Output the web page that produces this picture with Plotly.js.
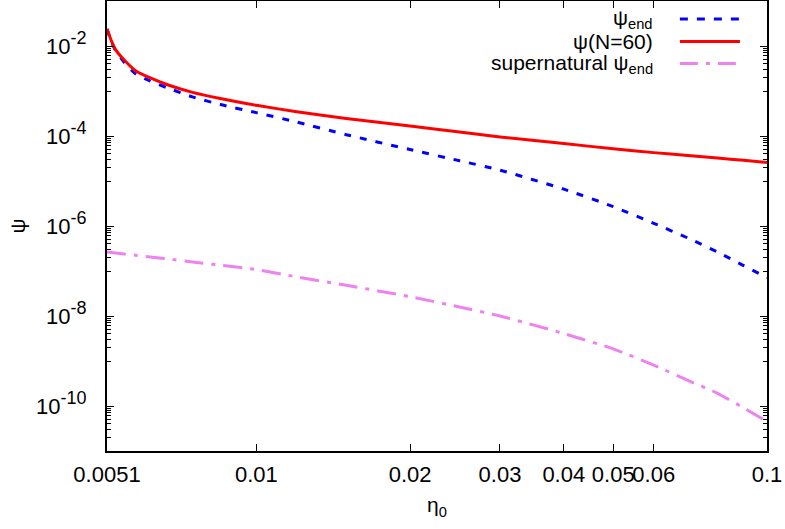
<!DOCTYPE html>
<html>
<head>
<meta charset="utf-8">
<script src="https://cdn.plot.ly/plotly-3.0.1.min.js"></script>
<style>html,body{margin:0;padding:0;background:#fff;}#plot{width:785px;height:529px;}</style>
</head>
<body>
<div id="plot"></div>
<script>
// eta_0 sample points
const eta0 = [0.0051, 0.0052, 0.0053, 0.0055, 0.0058, 0.0062, 0.0067, 0.0075, 0.0085, 0.01, 0.012, 0.015, 0.02, 0.025, 0.03, 0.04, 0.05, 0.06, 0.07, 0.08, 0.09, 0.1];
// psi_end (blue dashed)
const psiEnd = [2.40e-2, 1.26e-2, 7.9e-3, 4.47e-3, 2.40e-3, 1.66e-3, 1.17e-3, 7.4e-4, 5.0e-4, 3.31e-4, 2.04e-4, 1.07e-4, 5.0e-5, 2.82e-5, 1.74e-5, 6.6e-6, 2.69e-6, 1.15e-6, 5.4e-7, 2.63e-7, 1.32e-7, 7.1e-8];
// psi(N=60) (red solid)
const psiN60 = [2.40e-2, 1.32e-2, 8.3e-3, 5.0e-3, 2.82e-3, 1.95e-3, 1.38e-3, 9.3e-4, 6.8e-4, 4.8e-4, 3.47e-4, 2.45e-4, 1.66e-4, 1.23e-4, 9.5e-5, 6.8e-5, 5.2e-5, 4.27e-5, 3.7e-5, 3.24e-5, 2.88e-5, 2.57e-5];
// supernatural psi_end (violet dash-dot)
const psiSuper = [2.63e-7, 2.57e-7, 2.51e-7, 2.40e-7, 2.24e-7, 2.04e-7, 1.86e-7, 1.58e-7, 1.35e-7, 1.07e-7, 7.4e-8, 4.8e-8, 2.69e-8, 1.58e-8, 1.0e-8, 4.07e-9, 1.86e-9, 8.1e-10, 3.7e-10, 1.91e-10, 9.1e-11, 4.5e-11];

const seriesNames = ["ψ<sub>end</sub>", "ψ(N=60)", "supernatural ψ<sub>end</sub>"];
const xTickVals = [0.0051, 0.01, 0.02, 0.03, 0.04, 0.05, 0.06, 0.1];
const xTickText = ["0.0051", "0.01", "0.02", "0.03", "0.04", "0.05", "0.06", "0.1"];
const yTickVals = [1e-10, 1e-8, 1e-6, 1e-4, 1e-2];
const yExponents = ["-10", "-8", "-6", "-4", "-2"];
const yTickText = yExponents.map(e => "10<sup><span style='font-size:18px'>" + e + "</span></sup>");

// minor ticks: k * 10^(n-1) below each major 10^n
const yMinor = [];
[1e-10, 1e-8, 1e-6, 1e-4, 1e-2, 1].forEach(m => {
  for (let k = 1; k <= 9; k++) yMinor.push(k * m / 10);
});

const colors = ["#0000ff", "#ff0000", "#ee82ee"];
const dashes = ["7px,9px", "solid", "19px,8px,4px,8px"];
const legendDashes = ["8px,9px", "solid", "18px,8px,4px,8px"];

const data = [
  {x: eta0, y: psiEnd, mode: "lines", line: {color: colors[0], width: 3, dash: dashes[0], shape: "spline", smoothing: 0.6}, name: seriesNames[0], showlegend: false},
  {x: eta0, y: psiN60, mode: "lines", line: {color: colors[1], width: 3, dash: dashes[1], shape: "spline", smoothing: 0.6}, name: seriesNames[1], showlegend: false},
  {x: eta0, y: psiSuper, mode: "lines", line: {color: colors[2], width: 3, dash: dashes[2], shape: "spline", smoothing: 0.6}, name: seriesNames[2], showlegend: false}
];

const font = {family: "Liberation Sans, Arial, sans-serif", size: 21, color: "#000"};
const tickFont = {family: "Liberation Sans, Arial, sans-serif", size: 22, color: "#000"};
const legendX = 0.830, lineX0 = 0.868, lineX1 = 0.959;
const rowY = [0.960, 0.910, 0.861];

const annotations = seriesNames.map((t, i) => ({
  text: t, xref: "paper", yref: "paper", x: legendX, y: rowY[i],
  xanchor: "right", yanchor: "middle", showarrow: false, font: font
}));
const shapes = seriesNames.map((t, i) => ({
  type: "line", xref: "paper", yref: "paper", x0: lineX0, x1: lineX1, y0: rowY[i], y1: rowY[i],
  line: {color: colors[i], width: 3, dash: legendDashes[i]}
}));

const layout = {
  width: 785, height: 529,
  margin: {l: 107, r: 18, t: 1, b: 78},
  paper_bgcolor: "#fff", plot_bgcolor: "#fff",
  font: font,
  showlegend: false,
  xaxis: {
    type: "log", range: [Math.log10(0.0051), -1],
    tickmode: "array", tickvals: xTickVals, ticktext: xTickText,
    tickangle: 0, tickfont: tickFont,
    ticks: "inside", ticklen: 7, tickwidth: 1, tickcolor: "#000",
    showline: true, linecolor: "#000", linewidth: 2, mirror: "allticks",
    showgrid: false, zeroline: false,
    ticklabelstandoff: 3,
    title: {text: "η<sub>0</sub>", font: font, standoff: 11}
  },
  yaxis: {
    type: "log", range: [-11, -1],
    tickmode: "array", tickvals: yTickVals, ticktext: yTickText,
    tickfont: tickFont,
    ticks: "inside", ticklen: 7, tickwidth: 1, tickcolor: "#000",
    minor: {tickmode: "array", tickvals: yMinor, ticks: "inside", ticklen: 4, tickwidth: 1, tickcolor: "#000", showgrid: false},
    showline: true, linecolor: "#000", linewidth: 2, mirror: "allticks",
    showgrid: false, zeroline: false,
    ticklabelstandoff: 14,
    title: {text: "ψ", font: font, standoff: 5}
  },
  annotations: annotations,
  shapes: shapes
};

Plotly.newPlot("plot", data, layout, {staticPlot: true, displayModeBar: false});
</script>
</body>
</html>
